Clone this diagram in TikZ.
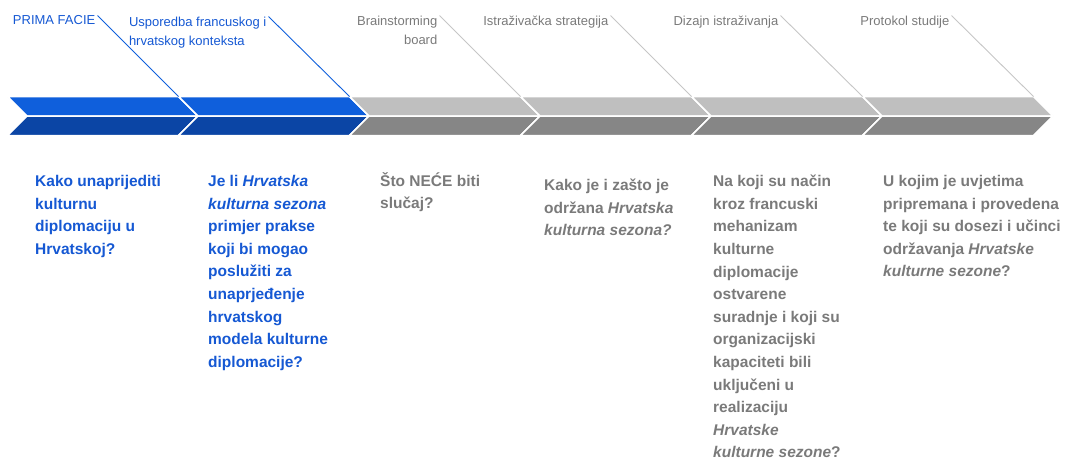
\documentclass[tikz,border=0pt]{standalone}
\usepackage{fontspec}
\setmainfont{Liberation Sans}
\usetikzlibrary{calc}
\definecolor{stepblue}{HTML}{0F5FDC}
\definecolor{stepblueshade}{HTML}{0B45A5}
\definecolor{stepgray}{HTML}{BFBFBF}
\definecolor{stepgrayshade}{HTML}{868686}
\definecolor{textblue}{HTML}{1558D3}
\definecolor{textgray}{HTML}{7A7A7A}
\definecolor{leadgray}{HTML}{C6C6C6}
\tikzset{
  band/.style={draw=white, line width=1.5pt, line join=miter},
  phaselabel/.style={inner sep=0pt, font=\fontsize{13}{19}\selectfont, anchor=north east},
  question/.style={inner sep=0pt, font=\fontsize{15.5}{22.6}\selectfont\bfseries, align=left, anchor=north west},
  leader/.style={line width=0.9pt},
}

\begin{document}
\begin{tikzpicture}[x=1pt,y=-1pt]
\useasboundingbox (0,0) rectangle (1068,461);

% -----------------------------------------------------------------------------
% chevron band: six steps, each an upper and a lower half
% -----------------------------------------------------------------------------
\foreach \k/\upper/\lower in {1/stepblue/stepblueshade,2/stepblue/stepblueshade,
    3/stepgray/stepgrayshade,4/stepgray/stepgrayshade,5/stepgray/stepgrayshade,6/stepgray/stepgrayshade}{
  \pgfmathsetmacro{\tipl}{27+171*(\k-1)}
  \pgfmathsetmacro{\tipr}{27+171*\k}
  \filldraw[band, fill=\upper] (\tipl,116) -- (\tipl-19.5,96.5) -- (\tipr-19.5,96.5) -- (\tipr,116) -- cycle;
  \filldraw[band, fill=\lower] (\tipl,116) -- (\tipr,116) -- (\tipr-19.5,135.5) -- (\tipl-19.5,135.5) -- cycle;
  \coordinate (edge\k) at (\tipr-19.5,96.5);
}

% -----------------------------------------------------------------------------
% step labels and leader lines
% -----------------------------------------------------------------------------
\node[phaselabel, text=textblue] (facie) at ($(edge1)+(-83,-81)$) {PRIMA FACIE};
\node[phaselabel, text=textblue, align=left] (usporedba) at ($(edge2)+(-83,-80)$) {Usporedba francuskog i\\hrvatskog konteksta};
\node[phaselabel, text=textgray, align=right] (brainstorm) at ($(edge3)+(-83,-81)$) {Brainstorming\\board};
\node[phaselabel, text=textgray] (strategija) at ($(edge4)+(-83,-81)$) {Istraživačka strategija};
\node[phaselabel, text=textgray] (dizajn) at ($(edge5)+(-84,-81)$) {Dizajn istraživanja};
\node[phaselabel, text=textgray] (protokol) at ($(edge6)+(-84,-81)$) {Protokol studije};

\foreach \lab/\k/\col in {facie/1/stepblue,usporedba/2/stepblue,brainstorm/3/leadgray,
    strategija/4/leadgray,dizajn/5/leadgray,protokol/6/leadgray}{
  \draw[leader, draw=\col] ([xshift=2pt]\lab.north east) -- (edge\k);
}

% -----------------------------------------------------------------------------
% research questions
% -----------------------------------------------------------------------------
\node[question, text=textblue] (q1) at (35,175) {Kako unaprijediti\\kulturnu\\diplomaciju u\\Hrvatskoj?};
\node[question, text=textblue] (q2) at (208,175) {Je li \textit{Hrvatska}\\\textit{kulturna sezona}\\primjer prakse\\koji bi mogao\\poslužiti za\\unaprjeđenje\\hrvatskog\\modela kulturne\\diplomacije?};
\node[question, text=textgray] (q3) at (380,172) {Što NEĆE biti\\slučaj?};
\node[question, text=textgray] (q4) at (544,179) {Kako je i zašto je\\održana \textit{Hrvatska}\\\textit{kulturna sezona?}};
\node[question, text=textgray] (q5) at (713,175) {Na koji su način\\kroz francuski\\mehanizam\\kulturne\\diplomacije\\ostvarene\\suradnje i koji su\\organizacijski\\kapaciteti bili\\uključeni u\\realizaciju\\\textit{Hrvatske}\\\textit{kulturne sezone}?};
\node[question, text=textgray] (q6) at (883,175) {U kojim je uvjetima\\pripremana i provedena\\te koji su dosezi i učinci\\održavanja \textit{Hrvatske}\\\textit{kulturne sezone}?};

\end{tikzpicture}
\end{document}
